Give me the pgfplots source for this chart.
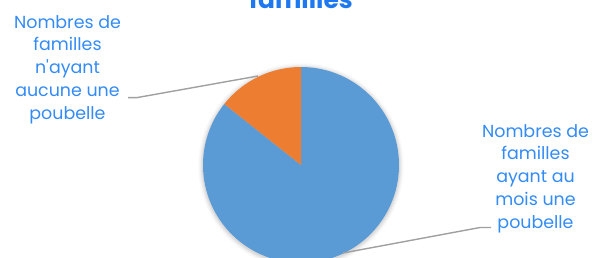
\documentclass[border=0pt]{standalone}
\usepackage{fontspec}
\setmainfont{Poppins}
\usepackage{pgfplots}
\usepackage{pgfplotstable}
\pgfplotsset{compat=1.18}
\definecolor{pieblue}{RGB}{91,155,213}
\definecolor{pieorange}{RGB}{237,125,49}
\definecolor{lbl}{RGB}{51,139,245}
\definecolor{ttl}{RGB}{30,120,240}
\definecolor{lead}{RGB}{160,160,160}
\pgfplotstableread{
label value
ayant 85.7
aucune 14.3
}\pietable
\tikzset{lab/.style={anchor=base, text=lbl, font=\fontsize{17.5}{20}\selectfont, inner sep=0}}
\begin{document}
\begin{tikzpicture}
\useasboundingbox (0,0) rectangle (593bp,-258bp);
\clip (0,0) rectangle (593bp,-258bp);
\pgfplotstablegetelem{1}{value}\of\pietable
\pgfmathsetmacro\aend{90+3.6*\pgfplotsretval}
\xdef\aend{\aend}
\begin{axis}[at={(0,-258bp)}, anchor=south west, scale only axis,
  width=593bp, height=258bp, xmin=0, xmax=593, ymin=0, ymax=258,
  y dir=reverse, hide axis, clip=false]
% soft shadow
\fill[black, opacity=0.015] (axis cs:301,166) circle[radius=103bp];
\fill[black, opacity=0.02] (axis cs:301,166) circle[radius=102bp];
\fill[black, opacity=0.03] (axis cs:301,166) circle[radius=101bp];
\fill[black, opacity=0.04] (axis cs:301,166) circle[radius=100bp];
\fill[black, opacity=0.05] (axis cs:301,166) circle[radius=99bp];
\fill[pieblue] (axis cs:301,165) -- ++(\aend:98bp) arc[start angle=\aend, end angle=450, radius=98bp] -- cycle;
\fill[pieorange] (axis cs:301,165) -- ++(90:98bp) arc[start angle=90, end angle=\aend, radius=98bp] -- cycle;
\draw[lead, line width=1.4bp] (axis cs:128,97.6) -- (axis cs:137,97.6) -- (axis cs:258,76);
\draw[lead, line width=1.4bp] (axis cs:343,253) -- (axis cs:480,227.5) -- (axis cs:491,227.5);
\node[anchor=base, text=ttl, font=\fontsize{25}{30}\selectfont\bfseries, inner sep=0] at (axis cs:301,8) {familles};
\node[lab] at (axis cs:67.5,28) {Nombres de};
\node[lab] at (axis cs:67.5,50.8) {familles};
\node[lab] at (axis cs:67.5,73.5) {n\textquotesingle ayant};
\node[lab] at (axis cs:67.5,96.3) {aucune une};
\node[lab] at (axis cs:67.5,119) {poubelle};
\node[lab] at (axis cs:535.5,137) {Nombres de};
\node[lab] at (axis cs:535.5,159.75) {familles};
\node[lab] at (axis cs:535.5,182.5) {ayant au};
\node[lab] at (axis cs:535.5,205.25) {mois une};
\node[lab] at (axis cs:535.5,228) {poubelle};
\end{axis}
\end{tikzpicture}
\end{document}
